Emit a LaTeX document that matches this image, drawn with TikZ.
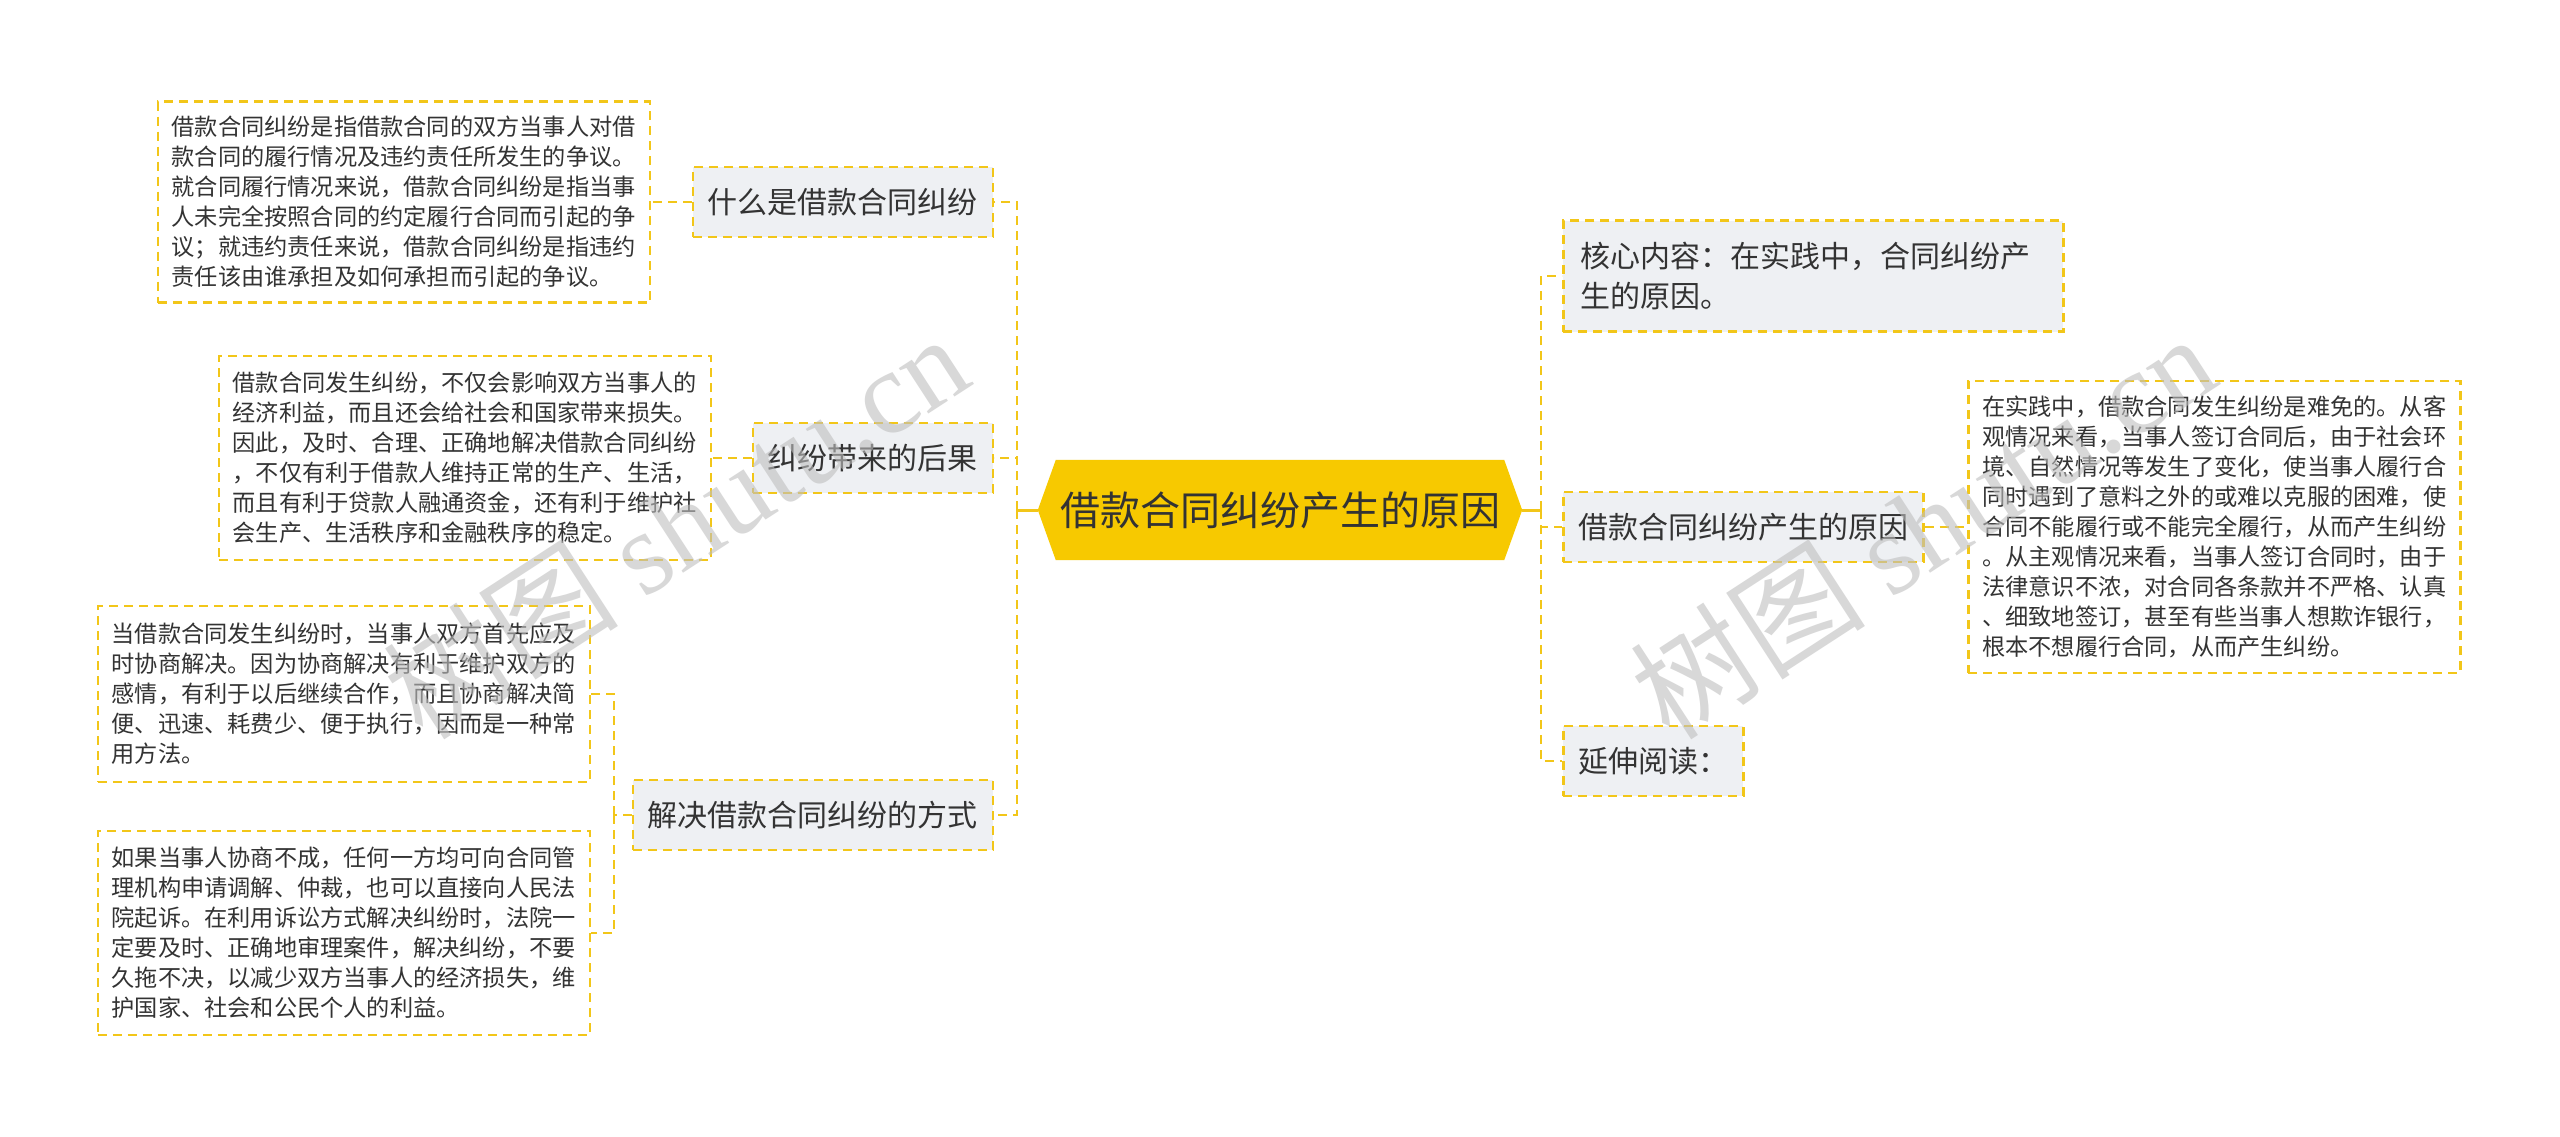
\documentclass[tikz,border=0pt]{standalone}
\usepackage{fontspec}
\setmainfont{Noto Sans CJK SC}
\newfontfamily\wmserif{Liberation Serif}
\usetikzlibrary{calc}
\definecolor{ybord}{HTML}{F2C619}
\definecolor{hexfill}{HTML}{F7C900}
\definecolor{subfill}{HTML}{EEF0F3}
\definecolor{txt}{HTML}{333333}
\definecolor{wm}{HTML}{BEBEBE}
\pgfdeclarelayer{bg}
\pgfsetlayers{bg,main}
\begin{document}
\begin{tikzpicture}[x=1pt,y=-1pt,
  dashc/.style={draw=ybord, line width=2.5pt, dash pattern=on 9pt off 6pt},
  solidc/.style={draw=ybord, line width=3pt},
  sub/.style={dashc, fill=subfill, text=txt, font=\fontsize{30}{40}\selectfont, inner xsep=15pt, inner ysep=0pt, minimum height=70pt},
  leaf/.style={dashc, fill=white, text=txt, font=\fontsize{23.2}{30}\selectfont, align=left, text width=464pt, inner xsep=14pt, inner ysep=0pt},
  wmark/.style={text=wm, opacity=0.6, font=\fontsize{118}{118}\selectfont, rotate=33},
]
\useasboundingbox (0,0) rectangle (2560,1136);

% hub
\node[minimum width=484pt, minimum height=100pt, inner sep=0pt, text=txt, font=\fontsize{40}{48}\selectfont] (hub) at (1280,510) {借款合同纠纷产生的原因};
\begin{pgfonlayer}{bg}
\fill[white] (0,0) rectangle (2560,1136);
\fill[hexfill] (hub.west) -- ([xshift=18pt]hub.north west) -- ([xshift=-18pt]hub.north east) -- (hub.east) -- ([xshift=-18pt]hub.south east) -- ([xshift=18pt]hub.south west) -- cycle;
\end{pgfonlayer}

% left subtopics
\node[sub, anchor=east] (s1) at (994,202) {什么是借款合同纠纷};
\node[sub, anchor=east] (s2) at (994,458) {纠纷带来的后果};
\node[sub, anchor=east] (s3) at (994,815) {解决借款合同纠纷的方式};

% right subtopics
\node[sub, anchor=west, text width=466pt, inner xsep=17pt, align=left, minimum height=111pt] (r1) at (1562,276) {核心内容：在实践中，合同纠纷产\\生的原因。};
\node[sub, anchor=west] (r2) at (1562,527) {借款合同纠纷产生的原因};
\node[sub, anchor=west] (r3) at (1562,761) {延伸阅读：};

% leaves
\node[leaf, anchor=east, minimum height=201pt] (l1) at (651,202) {借款合同纠纷是指借款合同的双方当事人对借\\款合同的履行情况及违约责任所发生的争议。\\就合同履行情况来说，借款合同纠纷是指当事\\人未完全按照合同的约定履行合同而引起的争\\议；就违约责任来说，借款合同纠纷是指违约\\责任该由谁承担及如何承担而引起的争议。};
\node[leaf, anchor=east, minimum height=204pt] (l2) at (712,458) {借款合同发生纠纷，不仅会影响双方当事人的\\经济利益，而且还会给社会和国家带来损失。\\因此，及时、合理、正确地解决借款合同纠纷\\，不仅有利于借款人维持正常的生产、生活，\\而且有利于贷款人融通资金，还有利于维护社\\会生产、生活秩序和金融秩序的稳定。};
\node[leaf, anchor=east, minimum height=176pt] (l3a) at (591,694) {当借款合同发生纠纷时，当事人双方首先应及\\时协商解决。因为协商解决有利于维护双方的\\感情，有利于以后继续合作，而且协商解决简\\便、迅速、耗费少、便于执行，因而是一种常\\用方法。};
\node[leaf, anchor=east, minimum height=204pt] (l3b) at (591,933) {如果当事人协商不成，任何一方均可向合同管\\理机构申请调解、仲裁，也可以直接向人民法\\院起诉。在利用诉讼方式解决纠纷时，法院一\\定要及时、正确地审理案件，解决纠纷，不要\\久拖不决，以减少双方当事人的经济损失，维\\护国家、社会和公民个人的利益。};
\node[leaf, anchor=west, minimum height=292pt] (rl) at (1967,527) {在实践中，借款合同发生纠纷是难免的。从客\\观情况来看，当事人签订合同后，由于社会环\\境、自然情况等发生了变化，使当事人履行合\\同时遇到了意料之外的或难以克服的困难，使\\合同不能履行或不能完全履行，从而产生纠纷\\。从主观情况来看，当事人签订合同时，由于\\法律意识不浓，对合同各条款并不严格、认真\\、细致地签订，甚至有些当事人想欺诈银行，\\根本不想履行合同，从而产生纠纷。};

% connectors
\coordinate (TL) at (1017,510);
\coordinate (TR) at (1541,510);
\coordinate (C3) at (614,815);
\draw[solidc] (hub.west) -- (TL);
\draw[solidc] (hub.east) -- (TR);
\draw[dashc] (TL) |- (s1.east);
\draw[dashc] (TL) |- (s2.east);
\draw[dashc] (TL) |- (s3.east);
\draw[dashc] (TR) |- (r1.west);
\draw[dashc] (TR) |- (r2.west);
\draw[dashc] (TR) |- (r3.west);
\draw[dashc] (s1.west) -- (l1.east);
\draw[dashc] (s2.west) -- (l2.east);
\draw[dashc] (r2.east) -- (rl.west);
\draw[dashc] (s3.west) -- (C3);
\draw[dashc] (C3) |- (l3a.east);
\draw[dashc] (C3) |- (l3b.east);

% watermarks
\node[wmark] (w1) at (675,525) {树图 {\wmserif shutu.cn}};
\node[wmark] (w2) at (1922,525) {树图 {\wmserif shutu.cn}};
\end{tikzpicture}
\end{document}
